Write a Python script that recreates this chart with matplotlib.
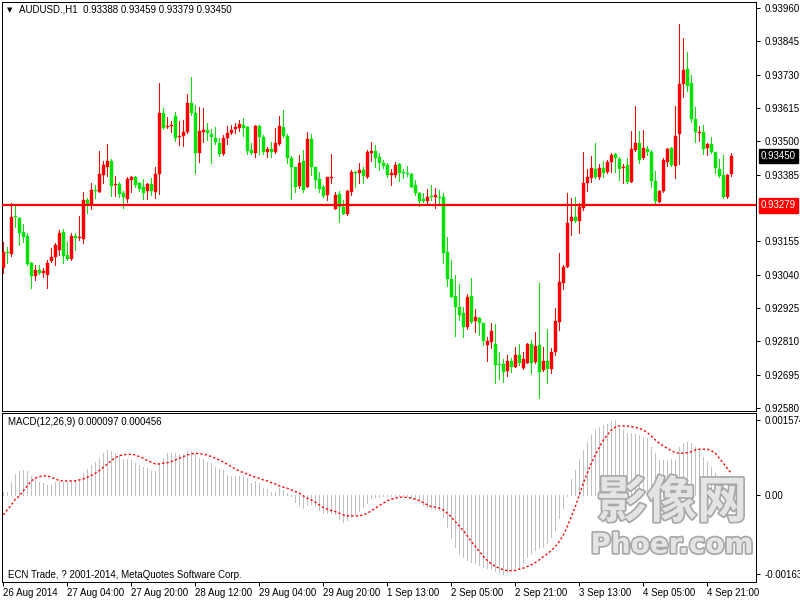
import numpy as np
import matplotlib
matplotlib.use("Agg")
import matplotlib.pyplot as plt
import matplotlib.transforms as mtransforms
import matplotlib.patheffects as pe

plt.rcParams['font.family'] = ['Liberation Sans', 'DejaVu Sans']

# ---------------- data (prices in points, 1 point = 0.00001) ----------------
open_pts = [
    93063, 93118, 93111, 93242, 93235, 93187, 93173, 93080, 93035, 93056,
    93046, 93039, 93087, 93101, 93125, 93187, 93108, 93094, 93173, 93166,
    93163, 93298, 93284, 93332, 93325, 93384, 93411, 93432, 93349, 93353,
    93322, 93301, 93366, 93377, 93356, 93342, 93329, 93353, 93325, 93387,
    93598, 93549, 93553, 93587, 93515, 93518, 93532, 93632, 93598, 93460,
    93532, 93539, 93525, 93511, 93494, 93456, 93511, 93528, 93542, 93546,
    93556, 93549, 93470, 93460, 93553, 93515, 93463, 93474, 93463, 93491,
    93549, 93518, 93442, 93411, 93346, 93432, 93342, 93508, 93411, 93370,
    93342, 93315, 93373, 93266, 93318, 93273, 93249, 93325, 93394, 93391,
    93401, 93377, 93460, 93467, 93446, 93425, 93418, 93384, 93384, 93422,
    93394, 93391, 93387, 93349, 93322, 93301, 93294, 93311, 93308, 93308,
    93308, 93118, 93025, 92966, 92928, 92908, 92859, 92966, 92880, 92890,
    92873, 92797, 92808, 92801, 92732, 92732, 92708, 92742, 92721, 92763,
    92718, 92735, 92801, 92739, 92797, 92711, 92742, 92714, 92773, 92877,
    93011, 93066, 93225, 93239, 93225, 93270, 93356, 93373, 93404, 93377,
    93408, 93394, 93429, 93456, 93439, 93408, 93418, 93360, 93470, 93494,
    93442, 93474, 93463, 93363, 93291, 93329, 93429, 93477, 93415, 93525,
    93698, 93750, 93701, 93577, 93528, 93532, 93477, 93491, 93463, 93404,
    93384, 93308, 93388]
high_pts = [
    93153, 93135, 93287, 93284, 93239, 93215, 93184, 93084, 93073, 93073,
    93063, 93091, 93132, 93149, 93194, 93197, 93153, 93184, 93184, 93242,
    93325, 93304, 93356, 93349, 93467, 93432, 93491, 93439, 93380, 93360,
    93329, 93377, 93380, 93380, 93360, 93370, 93356, 93373, 93411, 93701,
    93615, 93584, 93570, 93601, 93570, 93573, 93663, 93722, 93625, 93618,
    93615, 93563, 93542, 93549, 93511, 93522, 93553, 93556, 93563, 93573,
    93580, 93553, 93494, 93556, 93556, 93522, 93480, 93498, 93546, 93587,
    93608, 93525, 93449, 93411, 93453, 93470, 93532, 93525, 93411, 93394,
    93349, 93377, 93456, 93325, 93329, 93298, 93332, 93401, 93398, 93425,
    93411, 93470, 93498, 93487, 93460, 93435, 93425, 93404, 93429, 93425,
    93404, 93415, 93391, 93366, 93325, 93322, 93336, 93349, 93339, 93332,
    93322, 93170, 93091, 93039, 93008, 92928, 92973, 93029, 92922, 92894,
    92873, 92825, 92873, 92870, 92773, 92749, 92763, 92752, 92790, 92801,
    92773, 92804, 92814, 92842, 93011, 92790, 92852, 92787, 92925, 93115,
    93073, 93322, 93304, 93308, 93287, 93463, 93404, 93449, 93494, 93422,
    93432, 93435, 93460, 93460, 93446, 93422, 93442, 93536, 93622, 93536,
    93539, 93484, 93470, 93398, 93332, 93442, 93477, 93480, 93622, 93905,
    93856, 93808, 93729, 93618, 93553, 93556, 93494, 93515, 93463, 93439,
    93453, 93387, 93459]
low_pts = [
    93046, 93080, 93104, 93204, 93142, 93153, 93073, 92994, 93021, 93042,
    93032, 92994, 93084, 93073, 93108, 93080, 93091, 93091, 93125, 93160,
    93149, 93253, 93266, 93304, 93325, 93356, 93380, 93311, 93311, 93308,
    93270, 93291, 93325, 93342, 93329, 93301, 93301, 93315, 93304, 93318,
    93542, 93546, 93532, 93501, 93487, 93484, 93528, 93591, 93391, 93429,
    93498, 93504, 93425, 93491, 93449, 93453, 93491, 93525, 93528, 93536,
    93518, 93456, 93456, 93446, 93456, 93456, 93446, 93446, 93460, 93487,
    93515, 93425, 93301, 93325, 93339, 93325, 93342, 93384, 93339, 93325,
    93308, 93298, 93356, 93266, 93222, 93249, 93246, 93315, 93342, 93356,
    93356, 93373, 93432, 93411, 93401, 93408, 93377, 93349, 93377, 93363,
    93373, 93380, 93342, 93315, 93277, 93291, 93287, 93298, 93270, 93287,
    93080, 93001, 92963, 92828, 92884, 92825, 92852, 92873, 92842, 92832,
    92797, 92742, 92787, 92666, 92680, 92670, 92690, 92704, 92721, 92728,
    92714, 92735, 92701, 92735, 92615, 92708, 92666, 92701, 92763, 92849,
    92991, 93066, 93177, 93222, 93184, 93263, 93329, 93360, 93373, 93370,
    93377, 93391, 93394, 93394, 93366, 93356, 93356, 93360, 93467, 93425,
    93439, 93453, 93342, 93284, 93291, 93325, 93415, 93415, 93373, 93422,
    93653, 93674, 93566, 93498, 93501, 93456, 93453, 93460, 93391, 93377,
    93304, 93304, 93379]
close_pts = [
    93118, 93115, 93239, 93239, 93184, 93170, 93077, 93035, 93056, 93046,
    93053, 93080, 93101, 93142, 93184, 93104, 93094, 93173, 93166, 93170,
    93298, 93284, 93332, 93329, 93387, 93418, 93432, 93346, 93353, 93318,
    93308, 93370, 93377, 93349, 93336, 93322, 93353, 93329, 93387, 93598,
    93546, 93553, 93556, 93511, 93518, 93532, 93632, 93598, 93460, 93536,
    93539, 93528, 93515, 93498, 93456, 93511, 93528, 93539, 93549, 93560,
    93546, 93467, 93460, 93553, 93515, 93463, 93474, 93463, 93494, 93553,
    93518, 93442, 93411, 93342, 93425, 93332, 93508, 93411, 93366, 93336,
    93311, 93377, 93377, 93315, 93273, 93249, 93329, 93394, 93391, 93401,
    93380, 93463, 93467, 93442, 93425, 93415, 93384, 93391, 93418, 93391,
    93391, 93387, 93342, 93322, 93294, 93294, 93308, 93308, 93315, 93304,
    93115, 93025, 92963, 92928, 92901, 92859, 92963, 92877, 92894, 92873,
    92811, 92811, 92846, 92728, 92728, 92704, 92742, 92721, 92763, 92735,
    92749, 92801, 92735, 92794, 92704, 92742, 92714, 92773, 92880, 93015,
    93066, 93218, 93239, 93225, 93273, 93356, 93377, 93408, 93377, 93408,
    93391, 93429, 93453, 93442, 93404, 93411, 93360, 93474, 93494, 93435,
    93477, 93463, 93363, 93294, 93329, 93435, 93474, 93418, 93518, 93698,
    93746, 93691, 93577, 93532, 93532, 93474, 93491, 93463, 93408, 93380,
    93308, 93384, 93450]

# MACD main (histogram) and signal, in units of 1e-6
macd_e6 = [
    73, 79, 287, 441, 510, 530, 510, 406, 358, 287,
    254, 218, 218, 287, 302, 287, 287, 302, 322, 337,
    462, 545, 634, 703, 786, 878, 946, 932, 890, 842,
    759, 759, 738, 682, 634, 587, 566, 516, 510, 682,
    786, 890, 890, 890, 857, 857, 926, 926, 863, 786,
    753, 703, 670, 599, 545, 530, 426, 406, 406, 406,
    406, 358, 266, 308, 254, 150, 129, 79, 79, 162,
    114, 46, -10, -129, -198, -266, -198, -183, -218, -302,
    -358, -370, -370, -385, -495, -545, -510, -441, -385, -316,
    -233, -162, -58, -37, -25, -10, -4, -10, -6, -6,
    -10, -17, -31, -79, -129, -198, -233, -266, -287, -302,
    -441, -649, -890, -1065, -1202, -1273, -1342, -1377, -1410, -1446,
    -1481, -1514, -1535, -1564, -1606, -1636, -1585, -1550, -1514, -1481,
    -1410, -1273, -1202, -1134, -1098, -1065, -994, -857, -718, -474,
    -266, -4, 337, 530, 753, 946, 1119, 1258, 1362, 1431,
    1466, 1487, 1540, 1574, 1398, 1362, 1306, 1306, 1279, 1258,
    1223, 1190, 1015, 878, 738, 738, 738, 753, 738, 1015,
    1086, 1119, 1086, 1015, 946, 807, 703, 599, 462, 322,
    218, 114, 97]
signal_e6 = [
    -406, -302, -198, -79, -10, 94, 198, 302, 358, 391,
    406, 406, 379, 343, 308, 302, 302, 302, 302, 322,
    343, 379, 412, 462, 516, 587, 655, 724, 786, 828,
    842, 857, 857, 842, 807, 774, 724, 691, 655, 655,
    670, 682, 703, 738, 774, 807, 842, 863, 878, 869,
    857, 842, 807, 774, 738, 691, 649, 599, 551, 510,
    474, 441, 412, 379, 358, 322, 302, 266, 239, 198,
    171, 150, 114, 79, 46, -10, -58, -94, -141, -198,
    -254, -287, -316, -337, -370, -406, -426, -426, -426, -426,
    -406, -370, -322, -266, -212, -162, -108, -79, -58, -37,
    -37, -46, -58, -79, -108, -150, -198, -233, -245, -266,
    -302, -370, -453, -545, -634, -732, -842, -961, -1065, -1169,
    -1273, -1356, -1425, -1481, -1514, -1550, -1564, -1570, -1564, -1535,
    -1514, -1481, -1446, -1398, -1342, -1273, -1217, -1148, -1065, -961,
    -822, -649, -441, -233, 10, 254, 462, 670, 842, 1003,
    1154, 1258, 1362, 1419, 1446, 1446, 1446, 1431, 1419, 1398,
    1362, 1306, 1238, 1154, 1086, 1030, 982, 932, 890, 878,
    878, 890, 911, 946, 961, 961, 961, 932, 878, 774,
    670, 566, 456]

time_tick_bars = [0, 16, 32, 48, 64, 80, 96, 112, 128, 144, 160, 176]
time_labels = ["26 Aug 2014", "27 Aug 04:00", "27 Aug 20:00", "28 Aug 12:00",
               "29 Aug 04:00", "29 Aug 20:00", "1 Sep 13:00", "2 Sep 05:00",
               "2 Sep 21:00", "3 Sep 13:00", "4 Sep 05:00", "4 Sep 21:00"]
price_ticks = [0.93960, 0.93845, 0.93730, 0.93615, 0.93500, 0.93385,
               0.93155, 0.93040, 0.92925, 0.92810, 0.92695, 0.92580]
level_price = 0.93279
last_price = 0.93450
macd_ticks = [0.001574, 0.0, -0.001636]
macd_tick_labels = ["0.001574", "0.00", "-0.001636"]
title_text = "AUDUSD.,H1  0.93388 0.93459 0.93379 0.93450"
macd_text = "MACD(12,26,9) 0.000097 0.000456"
footer_text = "ECN Trade, ? 2001-2014, MetaQuotes Software Corp."

# ---------------- figure ----------------
W, H = 800, 600
fig = plt.figure(figsize=(W / 100, H / 100), dpi=100)
fig.patch.set_facecolor('white')

L, R = 2, 756
ax = fig.add_axes([L / W, 1 - 411 / H, (R - L) / W, (411 - 2) / H])
ax2 = fig.add_axes([L / W, 1 - 581.5 / H, (R - L) / W, (581.5 - 413) / H])

o = np.array(open_pts) / 1e5
h = np.array(high_pts) / 1e5
lo = np.array(low_pts) / 1e5
c = np.array(close_pts) / 1e5
x = np.arange(len(o))
up = c > o
RED, GREEN = '#ff0000', '#00e400'
cols = np.where(up, RED, GREEN)

px = 72 / 100  # one pixel in points
ax.vlines(x, lo, h, colors=cols, linewidth=0.7, zorder=2, antialiased=False)
body_bottom = np.minimum(o, c)
body_h = np.maximum(np.abs(c - o), 0.00002)
ax.bar(x, body_h, bottom=body_bottom, width=0.72, color=cols,
       edgecolor=cols, linewidth=0.3, zorder=3)

ax.axhline(level_price, color=RED, linewidth=2.2 * px, zorder=4)

ax.set_xlim(-0.33, 188.17)
ax.set_ylim(0.925697, 0.939807)
ax.yaxis.tick_right()
ax.set_yticks(price_ticks)
ax.set_yticklabels([f"{p:.5f}" for p in price_ticks])
ax.tick_params(axis='y', length=3, width=px, pad=3, labelsize=7, colors='black')
ax.set_xticks([])
for s in ax.spines.values():
    s.set_linewidth(px)
    s.set_color('black')

blend = mtransforms.blended_transform_factory(ax.transAxes, ax.transData)
ax.text(1 + 5 / (R - L), last_price, f"{last_price:.5f}", transform=blend,
        ha='left', va='center', color='white', fontsize=7, clip_on=False,
        bbox=dict(boxstyle='square,pad=0.22', fc='black', ec='black'))
ax.text(1 + 5 / (R - L), level_price, f"{level_price:.5f}", transform=blend,
        ha='left', va='center', color='white', fontsize=7, clip_on=False,
        bbox=dict(boxstyle='square,pad=0.22', fc=RED, ec=RED))

# title
fig.text(10 / W, 1 - 10 / H, "\u25BC", fontsize=5, family='DejaVu Sans',
         ha='center', va='center', color='black')
fig.text(19 / W, 1 - 10 / H, title_text, fontsize=7, ha='left', va='center')

# ---------------- MACD ----------------
m = np.array(macd_e6) / 1e6
sg = np.array(signal_e6) / 1e6
ax2.vlines(x, 0, m, colors='#c0c0c0', linewidth=0.7, zorder=2,
           antialiased=False)
ax2.plot(x, sg, color=RED, linewidth=1.0, linestyle=(0, (1.6, 1.6)), zorder=3)
ax2.set_xlim(-0.33, 188.17)
ax2.set_ylim(-0.001793, 0.001716)
ax2.yaxis.tick_right()
ax2.set_yticks(macd_ticks)
ax2.set_yticklabels(macd_tick_labels)
ax2.tick_params(axis='y', length=3, width=px, pad=3, labelsize=7)
ax2.set_xticks(time_tick_bars)
ax2.set_xticklabels(time_labels)
ax2.tick_params(axis='x', length=3, width=px, pad=2, labelsize=7)
for lab in ax2.get_xticklabels():
    lab.set_horizontalalignment('left')
for s in ax2.spines.values():
    s.set_linewidth(px)
    s.set_color('black')

fig.text(8 / W, 1 - 422 / H, macd_text, fontsize=7, ha='left', va='center')
fig.text(8 / W, 1 - 575 / H, footer_text, fontsize=7, ha='left', va='center')

# watermark
wm_fx = [pe.Stroke(linewidth=2.5, foreground='#a8a8a8'), pe.Normal()]
fig.text(672 / W, 1 - 503 / H, "影像网", fontsize=36, weight='bold',
         family=['Noto Sans CJK SC', 'DejaVu Sans'], color='#e4e4e4',
         ha='center', va='center', path_effects=wm_fx, zorder=10)
fig.text(672 / W, 1 - 545 / H, "Phoer.com", fontsize=20, weight='bold',
         family='DejaVu Sans', color='#e4e4e4',
         ha='center', va='center', path_effects=wm_fx, zorder=10)

fig.savefig("out.png", dpi=100, facecolor='white')
